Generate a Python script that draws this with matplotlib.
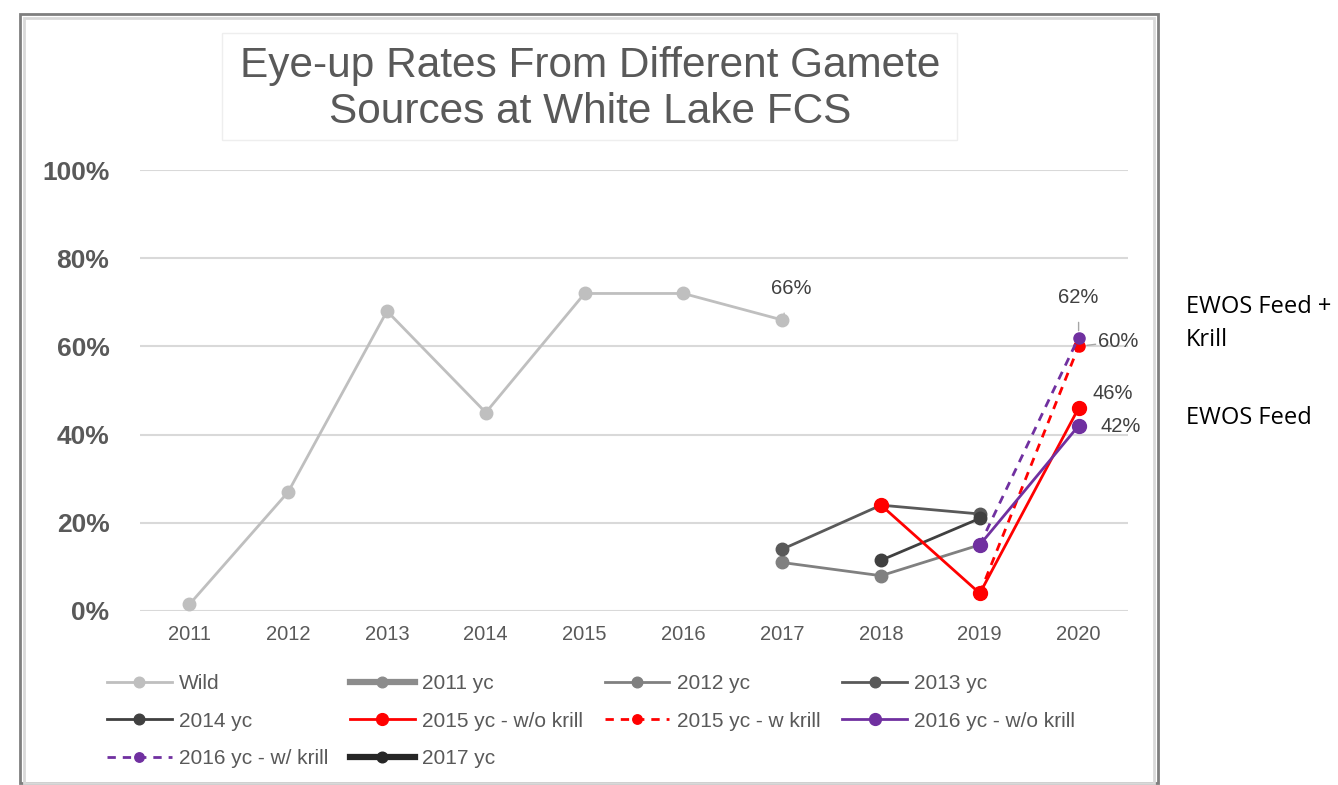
import numpy as np
import matplotlib
matplotlib.use("Agg")
import matplotlib.pyplot as plt
from matplotlib.patches import Rectangle
from matplotlib.ticker import FuncFormatter

plt.rcParams['font.family'] = ['Liberation Sans', 'DejaVu Sans']

nan = np.nan
years = [2011, 2012, 2013, 2014, 2015, 2016, 2017, 2018, 2019, 2020]

# eye-up rate (%) by spawning year
wild = [1.5, 27, 68, 45, 72, 72, 66, nan, nan, nan]
yc_2011 = [nan] * 10
yc_2012 = [nan, nan, nan, nan, nan, nan, 11, 8, 15, nan]
yc_2013 = [nan, nan, nan, nan, nan, nan, 14, 24, 22, nan]
yc_2014 = [nan, nan, nan, nan, nan, nan, nan, 11.5, 21, nan]
yc_2015_wo = [nan, nan, nan, nan, nan, nan, nan, 24, 4, 46]
yc_2015_w = [nan, nan, nan, nan, nan, nan, nan, nan, 4, 60]
yc_2016_wo = [nan, nan, nan, nan, nan, nan, nan, nan, 15, 42]
yc_2016_w = [nan, nan, nan, nan, nan, nan, nan, nan, 15, 62]
yc_2017 = [nan] * 10

W, H = 1338, 785
fig = plt.figure(figsize=(W / 100, H / 100), dpi=100)


def fx(px):
    return px / W


def fy(py):
    return 1 - py / H


# chart frame
fig.patches.append(Rectangle((fx(20), fy(783)), fx(1158) - fx(20), fy(14) - fy(783),
                             transform=fig.transFigure, fill=False,
                             edgecolor='#7f7f7f', lw=2))
fig.patches.append(Rectangle((fx(24), fy(783)), fx(1154) - fx(24), fy(18) - fy(783),
                             transform=fig.transFigure, fill=False,
                             edgecolor='#d9d9d9', lw=2))
# title box
fig.patches.append(Rectangle((fx(222), fy(140)), fx(957) - fx(222), fy(33) - fy(140),
                             transform=fig.transFigure, fill=False,
                             edgecolor='#eeeeee', lw=1))
fig.text(fx(590), fy(89), "Eye-up Rates From Different Gamete\nSources at White Lake FCS",
         ha='center', va='center', fontsize=30.5, color='#595959', linespacing=1.17)

ax = fig.add_axes([fx(140), fy(611), fx(1128) - fx(140), fy(170) - fy(611)])
ax.set_xlim(2010.5, 2020.5)
ax.set_ylim(0, 100)
ax.set_yticks([0, 20, 40, 60, 80, 100])
ax.yaxis.set_major_formatter(FuncFormatter(lambda v, p: f"{v:.0f}%"))
ax.set_xticks(years)
ax.grid(axis='y', color='#d9d9d9', lw=1.5)
ax.set_axisbelow(True)
for s in ax.spines.values():
    s.set_visible(False)
ax.tick_params(axis='y', length=0, pad=22, labelsize=19, labelcolor='#595959')
ax.tick_params(axis='x', length=0, pad=10, labelsize=14.5, labelcolor='#595959')
for t in ax.get_yticklabels():
    t.set_fontweight('bold')

h = {}
h['wild'], = ax.plot(years, wild, color='#bfbfbf', lw=2, marker='o', ms=9, label='Wild')
h['2011'], = ax.plot(years, yc_2011, color='#8c8c8c', lw=4.5, marker='o', ms=9, label='2011 yc')
h['2012'], = ax.plot(years, yc_2012, color='#808080', lw=2, marker='o', ms=9, label='2012 yc')
h['2013'], = ax.plot(years, yc_2013, color='#595959', lw=2, marker='o', ms=9, label='2013 yc')
h['2014'], = ax.plot(years, yc_2014, color='#404040', lw=2, marker='o', ms=9, label='2014 yc')
h['2015wo'], = ax.plot(years, yc_2015_wo, color='#ff0000', lw=2, marker='o', ms=10,
                       label='2015 yc - w/o krill')
h['2015w'], = ax.plot(years, yc_2015_w, color='#ff0000', lw=2, ls=(0, (3, 2.5)), marker='o',
                      ms=8, label='2015 yc - w krill')
h['2016wo'], = ax.plot(years, yc_2016_wo, color='#7030a0', lw=2, marker='o', ms=10,
                       label='2016 yc - w/o krill')
h['2016w'], = ax.plot(years, yc_2016_w, color='#7030a0', lw=2, ls=(0, (3, 2.5)), marker='o',
                      ms=8, label='2016 yc - w/ krill')
h['2017'], = ax.plot(years, yc_2017, color='#262626', lw=4.5, marker='o', ms=9, label='2017 yc')

# data labels
lab = dict(textcoords='offset pixels', ha='center', va='center', fontsize=14.5,
           color='#404040')
lead = dict(arrowstyle='-', color='#a6a6a6', lw=1, shrinkA=9, shrinkB=5)
ax.annotate("66%", (2017, wild[6]), xytext=(9, 31), arrowprops=lead, **lab)
ax.annotate("62%", (2020, yc_2016_w[9]), xytext=(0, 40), arrowprops=lead, **lab)
ax.annotate("60%", (2020, yc_2015_w[9]), xytext=(40, 5),
            arrowprops=dict(lead, shrinkA=20, shrinkB=6), **lab)
ax.annotate("46%", (2020, yc_2015_wo[9]), xytext=(34, 15), **lab)
ax.annotate("42%", (2020, yc_2016_wo[9]), xytext=(42, -1), **lab)

# legend laid out row by row, four columns
order = ['wild', '2014', '2016w', '2011', '2015wo', '2017', '2012', '2015w', '2013', '2016wo']
leg = fig.legend([h[k] for k in order], [h[k].get_label() for k in order],
                 loc='upper left', bbox_to_anchor=(fx(107), fy(674)), ncol=4,
                 frameon=False, fontsize=15, borderaxespad=0, borderpad=0,
                 handlelength=3.1, handletextpad=0.35, columnspacing=1.05,
                 labelspacing=0.9, markerscale=0.85)
for t in leg.get_texts():
    t.set_color('#595959')

# side notes
side = dict(fontsize=17, va='center', color='black', family='Open Sans')
fig.text(fx(1186), fy(307), "EWOS Feed +", **side)
fig.text(fx(1186), fy(340), "Krill", **side)
fig.text(fx(1186), fy(418), "EWOS Feed", **side)

fig.savefig("out.png", dpi=100)
